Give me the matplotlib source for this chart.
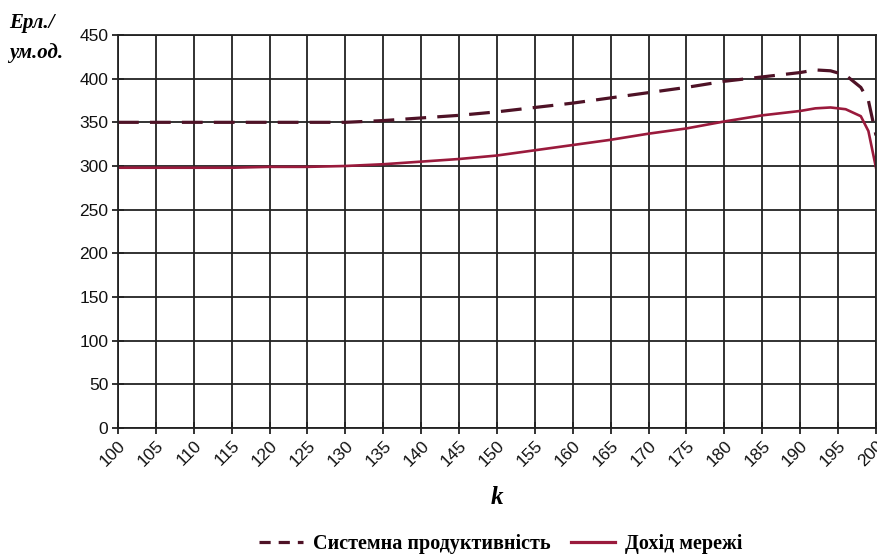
import matplotlib
matplotlib.use("Agg")
import matplotlib.pyplot as plt
from matplotlib.lines import Line2D

k = [100, 105, 110, 115, 120, 125, 130, 135, 140, 145, 150, 155, 160, 165, 170,
     175, 180, 185, 190, 192, 194, 196, 198, 199, 200]
system_perf = [350, 350, 350, 350, 350, 350, 350, 352, 355, 358, 362, 367, 372, 378, 384,
               390, 397, 402, 407, 410, 409, 404, 390, 375, 335]
network_income = [298, 298, 298, 298, 299, 299, 300, 302, 305, 308, 312, 318, 324, 330, 337,
                  343, 351, 358, 363, 366, 367, 365, 357, 340, 298]
x_ticks = list(range(100, 201, 5))
y_ticks = list(range(0, 451, 50))

fig = plt.figure(figsize=(8.78, 5.58), dpi=100)
ax = fig.add_axes([0.1344, 0.233, 0.8633, 0.7043])

ax.plot(k, system_perf, color="#4e1226", lw=2.3, dashes=(6.5, 3.5), label="Системна продуктивність")
ax.plot(k, network_income, color="#9a1a3c", lw=1.9, label="Дохід мережі")

ax.set_xlim(100, 200)
ax.set_ylim(0, 450)
ax.set_xticks(x_ticks)
ax.set_yticks(y_ticks)
ax.set_xticklabels([str(v) for v in x_ticks], rotation=45, ha="right", rotation_mode="anchor",
                   fontsize=12.5, family="Liberation Sans", color="#111111")
ax.set_yticklabels([str(v) for v in y_ticks], fontsize=12.5, family="Liberation Sans", color="#111111")
ax.grid(True, color="#222222", lw=1.3)
ax.tick_params(axis="both", direction="inout", length=8, width=1.3, color="#222222", pad=3)
for s in ax.spines.values():
    s.set_color("#222222")
    s.set_linewidth(1.3)

fig.text(0.566, 0.108, "k", fontsize=18, fontweight="bold", fontstyle="italic",
         family="Liberation Serif", ha="center", va="center")
fig.text(0.010, 0.958, "Ерл./", fontsize=15, fontweight="bold", fontstyle="italic",
         family="Liberation Serif", ha="left", va="center")
fig.text(0.010, 0.905, "ум.од.", fontsize=15, fontweight="bold", fontstyle="italic",
         family="Liberation Serif", ha="left", va="center")

handles = [Line2D([0], [0], color="#4e1226", lw=2.3, dashes=(3.5, 2.5)),
           Line2D([0], [0], color="#9a1a3c", lw=2.3)]
fig.legend(handles, ["Системна продуктивність", "Дохід мережі"], loc="center",
           bbox_to_anchor=(0.57, 0.025), ncol=2, frameon=False, handlelength=2.2,
           columnspacing=1.0, handletextpad=0.5,
           prop={"family": "Liberation Serif", "weight": "bold", "size": 14.5})

fig.savefig("out.png", dpi=100)
